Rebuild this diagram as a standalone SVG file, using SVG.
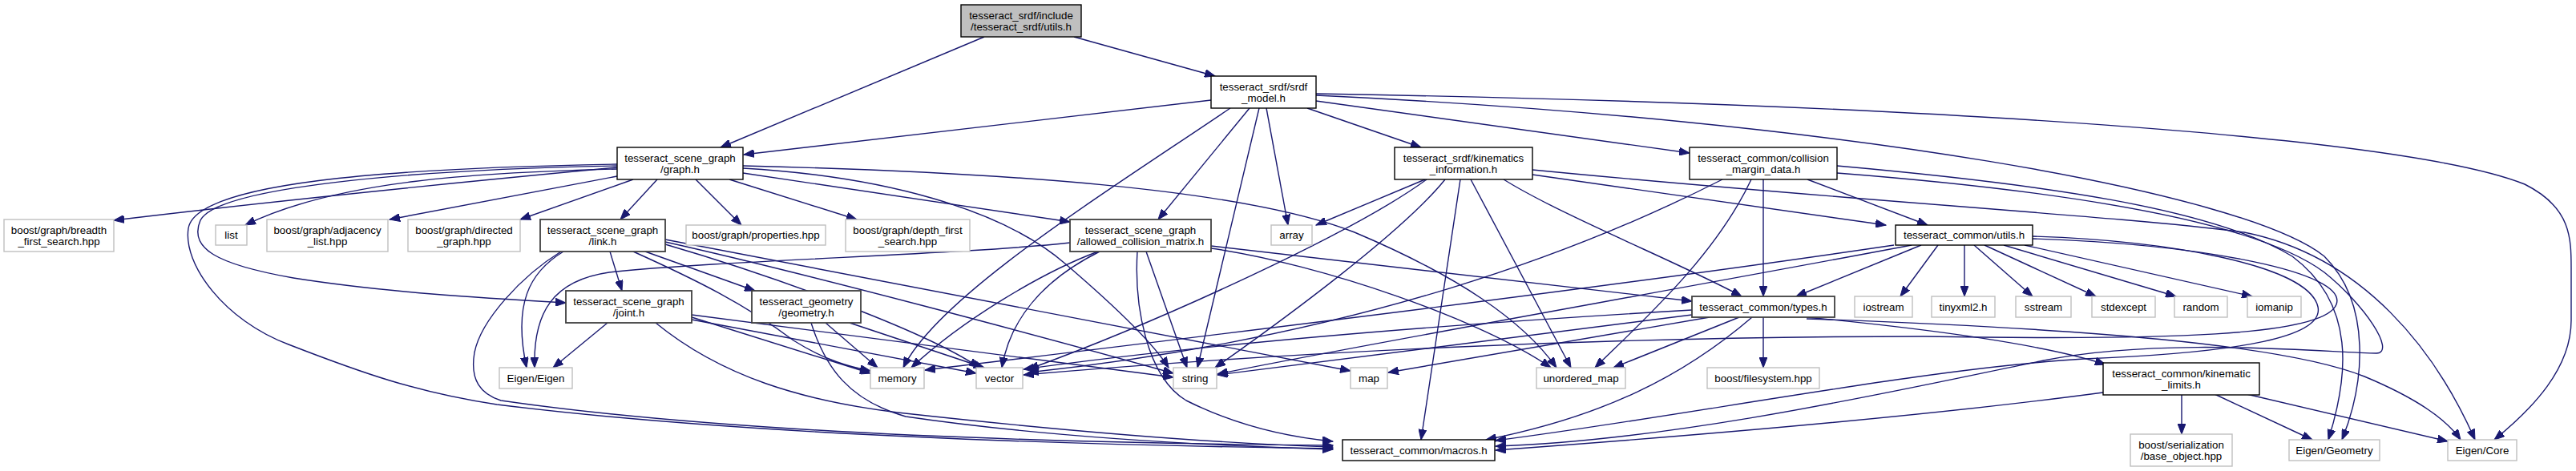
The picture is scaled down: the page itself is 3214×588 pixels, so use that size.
<svg xmlns="http://www.w3.org/2000/svg" width="3214" height="588" viewBox="0 0 3214 588">
<style>
rect{fill:#fff;stroke-width:1.4}
.d rect{stroke:#000}
.g rect{stroke:#404040;stroke-width:1.8}
.x rect{stroke:#bfbfbf}
.r rect{fill:#bfbfbf;stroke:#000}
text{font-family:"Liberation Sans",Arial,sans-serif;font-size:13.33px;text-anchor:middle;fill:#000}
#edges path{fill:none;stroke:#191970;stroke-width:1.4;marker-end:url(#ah)}
</style>
<defs>
<marker id="ah" markerUnits="userSpaceOnUse" markerWidth="14" markerHeight="10" viewBox="0 0 14 10" refX="13" refY="5" orient="auto">
<path d="M0,0 L13,5 L0,10 z" fill="#191970" stroke="#191970"/>
</marker>
</defs>
<rect width="3214" height="588" fill="#fff" stroke="none"/>
<g id="edges">
<path d="M1228,46 L899,184"/>
<path d="M1340,46 L1516,95"/>
<path d="M1511,125 L928,193"/>
<path d="M1535,135 C1380,240 1170,370 1127,459"/>
<path d="M1559,135 L1445,274"/>
<path d="M1571,135 L1494,459"/>
<path d="M1580,135 L1607,281"/>
<path d="M1631,135 L1773,184"/>
<path d="M1642,126 L2108,191"/>
<path d="M1642,117 C2400,130 3000,170 3150,230 C3210,260 3208,300 3208,340 L3208,400 C3208,460 3160,510 3112,549"/>
<path d="M1642,119 C2300,150 2800,240 2900,320 C2960,380 2950,480 2922,549"/>
<path d="M770,209 C600,225 350,250 142,275"/>
<path d="M770,211 C600,215 420,225 306,281"/>
<path d="M770,207 C500,212 270,235 250,275 C235,310 270,330 366,347 C480,365 600,372 706,378"/>
<path d="M770,205 C480,210 245,228 235,285 C228,330 280,400 360,430 C450,465 520,490 620,505 C900,540 1300,555 1663,560"/>
<path d="M770,220 L486,274"/>
<path d="M790,224 L649,274"/>
<path d="M820,224 L774,274"/>
<path d="M868,224 L925,281"/>
<path d="M910,224 L1069,274"/>
<path d="M927,216 L1335,277"/>
<path d="M927,210 C1100,220 1250,260 1330,330 C1400,390 1440,430 1458,459"/>
<path d="M927,207 C1250,215 1550,235 1690,290 C1820,345 1900,400 1942,459"/>
<path d="M761,314 L776,363"/>
<path d="M805,314 L942,363"/>
<path d="M703,314 C660,340 640,380 657,459"/>
<path d="M700,314 C650,345 600,400 592,440 C586,475 600,492 625,500 C900,540 1300,553 1663,556"/>
<path d="M790,314 C870,350 930,380 990,425 C1030,450 1060,458 1086,463"/>
<path d="M830,305 C950,340 1150,410 1222,459"/>
<path d="M830,302 C1000,340 1300,420 1464,466"/>
<path d="M830,299 L1685,463"/>
<path d="M758,403 L690,459"/>
<path d="M863,396 L1086,466"/>
<path d="M863,399 L1218,466"/>
<path d="M863,393 L1464,471"/>
<path d="M818,403 C900,470 1000,500 1120,515 C1300,535 1500,553 1663,558"/>
<path d="M1030,403 L1095,459"/>
<path d="M1060,403 L1228,459"/>
<path d="M1012,403 C1030,460 1060,500 1130,520 C1300,545 1500,556 1663,561"/>
<path d="M1335,303 C1200,318 900,325 760,340 C690,350 665,390 667,459"/>
<path d="M1370,314 C1300,340 1200,400 1137,459"/>
<path d="M1372,314 C1300,350 1260,400 1250,459"/>
<path d="M1430,314 L1481,459"/>
<path d="M1419,314 C1415,380 1430,470 1480,500 C1540,530 1600,545 1663,551"/>
<path d="M1511,307 L2111,376"/>
<path d="M1511,310 C1650,330 1850,400 1935,459"/>
<path d="M1778,224 L1642,281"/>
<path d="M1780,224 C1690,290 1450,400 1283,461"/>
<path d="M1803,224 C1750,290 1600,400 1516,459"/>
<path d="M1822,224 L1773,549"/>
<path d="M1835,224 L1960,459"/>
<path d="M1876,224 C1950,270 2100,330 2173,370"/>
<path d="M1912,218 L2353,281"/>
<path d="M1912,212 C2300,250 2650,270 2800,290 C2950,320 3040,440 3088,549"/>
<path d="M2149,224 C1980,310 1700,420 1283,465"/>
<path d="M2185,224 C2140,320 2050,400 1990,459"/>
<path d="M2200,224 L2200,370"/>
<path d="M2255,224 L2405,281"/>
<path d="M2292,207 C2550,230 2760,260 2860,320 C2940,380 2930,470 2905,549"/>
<path d="M2292,216 C2600,240 2820,280 2900,340 C2950,380 2990,440 2965,441 C2900,440 2700,420 2550,450 C2400,480 2100,550 1866,557"/>
<path d="M2397,306 L2241,370"/>
<path d="M2418,306 L2371,370"/>
<path d="M2451,306 L2451,370"/>
<path d="M2463,306 L2536,370"/>
<path d="M2476,306 L2615,370"/>
<path d="M2500,306 L2715,370"/>
<path d="M2526,306 L2810,370"/>
<path d="M2363,306 C2000,360 1500,420 1154,462"/>
<path d="M2385,306 C2100,360 1700,430 1519,467"/>
<path d="M2536,295 C2700,300 2880,330 2892,383 C2900,420 2800,440 2600,448 C2400,460 2100,520 1866,550"/>
<path d="M2536,298 C2750,305 2930,340 2915,380 C2900,420 2700,425 2400,420 C2000,420 1600,440 1277,468"/>
<path d="M2111,387 C1800,405 1500,430 1277,461"/>
<path d="M2111,393 L1519,468"/>
<path d="M2133,396 L1732,465"/>
<path d="M2170,396 L2013,459"/>
<path d="M2186,396 C2100,470 2000,520 1854,549"/>
<path d="M2200,396 L2200,459"/>
<path d="M2254,396 C2400,410 2550,430 2627,455"/>
<path d="M2254,398 C2600,410 2850,430 2950,470 C3010,495 3050,520 3070,549"/>
<path d="M2722,492 L2722,542"/>
<path d="M2763,492 L2885,549"/>
<path d="M2803,492 L3054,551"/>
<path d="M2624,490 C2400,520 2100,545 1866,562"/>
</g>
<g id="n_root" class="r"><rect x="1199" y="6" width="150" height="40"/><text x="1274" y="23.5">tesseract_srdf/include</text><text x="1274" y="38">/tesseract_srdf/utils.h</text></g>
<g id="n_model" class="d"><rect x="1511" y="95" width="131" height="40"/><text x="1576.5" y="112.5">tesseract_srdf/srdf</text><text x="1576.5" y="127">_model.h</text></g>
<g id="n_graph" class="d"><rect x="770" y="184" width="157" height="40"/><text x="848.5" y="201.5">tesseract_scene_graph</text><text x="848.5" y="216">/graph.h</text></g>
<g id="n_kin" class="d"><rect x="1740" y="184" width="172" height="40"/><text x="1826" y="201.5">tesseract_srdf/kinematics</text><text x="1826" y="216">_information.h</text></g>
<g id="n_cmd" class="d"><rect x="2108" y="184" width="184" height="40"/><text x="2200" y="201.5">tesseract_common/collision</text><text x="2200" y="216">_margin_data.h</text></g>
<g id="n_bfs" class="x"><rect x="5" y="274" width="137" height="40"/><text x="73.5" y="291.5">boost/graph/breadth</text><text x="73.5" y="306">_first_search.hpp</text></g>
<g id="n_list" class="x"><rect x="269" y="281" width="39" height="25"/><text x="288.5" y="298">list</text></g>
<g id="n_adj" class="x"><rect x="333" y="274" width="151" height="40"/><text x="408.5" y="291.5">boost/graph/adjacency</text><text x="408.5" y="306">_list.hpp</text></g>
<g id="n_dir" class="x"><rect x="509" y="274" width="140" height="40"/><text x="579" y="291.5">boost/graph/directed</text><text x="579" y="306">_graph.hpp</text></g>
<g id="n_link" class="g"><rect x="674" y="274" width="156" height="40"/><text x="752" y="291.5">tesseract_scene_graph</text><text x="752" y="306">/link.h</text></g>
<g id="n_props" class="x"><rect x="856" y="281" width="174" height="25"/><text x="943" y="298">boost/graph/properties.hpp</text></g>
<g id="n_dfs" class="x"><rect x="1055" y="274" width="155" height="40"/><text x="1132.5" y="291.5">boost/graph/depth_first</text><text x="1132.5" y="306">_search.hpp</text></g>
<g id="n_acm" class="g"><rect x="1335" y="274" width="176" height="40"/><text x="1423" y="291.5">tesseract_scene_graph</text><text x="1423" y="306">/allowed_collision_matrix.h</text></g>
<g id="n_array" class="x"><rect x="1586" y="281" width="51" height="25"/><text x="1611.5" y="298">array</text></g>
<g id="n_cutils" class="d"><rect x="2365" y="281" width="171" height="25"/><text x="2450.5" y="298">tesseract_common/utils.h</text></g>
<g id="n_joint" class="g"><rect x="706" y="363" width="157" height="40"/><text x="784.5" y="380.5">tesseract_scene_graph</text><text x="784.5" y="395">/joint.h</text></g>
<g id="n_geom" class="g"><rect x="938" y="363" width="136" height="40"/><text x="1006" y="380.5">tesseract_geometry</text><text x="1006" y="395">/geometry.h</text></g>
<g id="n_types" class="g"><rect x="2111" y="370" width="178" height="26"/><text x="2200" y="387.5">tesseract_common/types.h</text></g>
<g id="n_iostream" class="x"><rect x="2314" y="370" width="72" height="26"/><text x="2350" y="387.5">iostream</text></g>
<g id="n_tinyxml" class="x"><rect x="2410" y="370" width="79" height="26"/><text x="2449.5" y="387.5">tinyxml2.h</text></g>
<g id="n_sstream" class="x"><rect x="2515" y="370" width="69" height="26"/><text x="2549.5" y="387.5">sstream</text></g>
<g id="n_stdexcept" class="x"><rect x="2610" y="370" width="79" height="26"/><text x="2649.5" y="387.5">stdexcept</text></g>
<g id="n_random" class="x"><rect x="2713" y="370" width="66" height="26"/><text x="2746" y="387.5">random</text></g>
<g id="n_iomanip" class="x"><rect x="2804" y="370" width="67" height="26"/><text x="2837.5" y="387.5">iomanip</text></g>
<g id="n_eigen" class="x"><rect x="623" y="459" width="91" height="26"/><text x="668.5" y="476.5">Eigen/Eigen</text></g>
<g id="n_memory" class="x"><rect x="1086" y="459" width="67" height="26"/><text x="1119.5" y="476.5">memory</text></g>
<g id="n_vector" class="x"><rect x="1218" y="459" width="58" height="26"/><text x="1247" y="476.5">vector</text></g>
<g id="n_string" class="x"><rect x="1464" y="459" width="54" height="26"/><text x="1491" y="476.5">string</text></g>
<g id="n_map" class="x"><rect x="1685" y="459" width="46" height="26"/><text x="1708" y="476.5">map</text></g>
<g id="n_umap" class="x"><rect x="1917" y="459" width="111" height="26"/><text x="1972.5" y="476.5">unordered_map</text></g>
<g id="n_bfsys" class="x"><rect x="2130" y="459" width="140" height="26"/><text x="2200" y="476.5">boost/filesystem.hpp</text></g>
<g id="n_kl" class="d"><rect x="2624" y="453" width="195" height="40"/><text x="2721.5" y="470.5">tesseract_common/kinematic</text><text x="2721.5" y="485">_limits.h</text></g>
<g id="n_macros" class="d"><rect x="1675" y="549" width="190" height="26"/><text x="1770" y="566.5">tesseract_common/macros.h</text></g>
<g id="n_boser" class="x"><rect x="2658" y="542" width="127" height="40"/><text x="2721.5" y="559.5">boost/serialization</text><text x="2721.5" y="574">/base_object.hpp</text></g>
<g id="n_egeom" class="x"><rect x="2856" y="549" width="113" height="26"/><text x="2912.5" y="566.5">Eigen/Geometry</text></g>
<g id="n_ecore" class="x"><rect x="3054" y="549" width="86" height="26"/><text x="3097" y="566.5">Eigen/Core</text></g>
</svg>
